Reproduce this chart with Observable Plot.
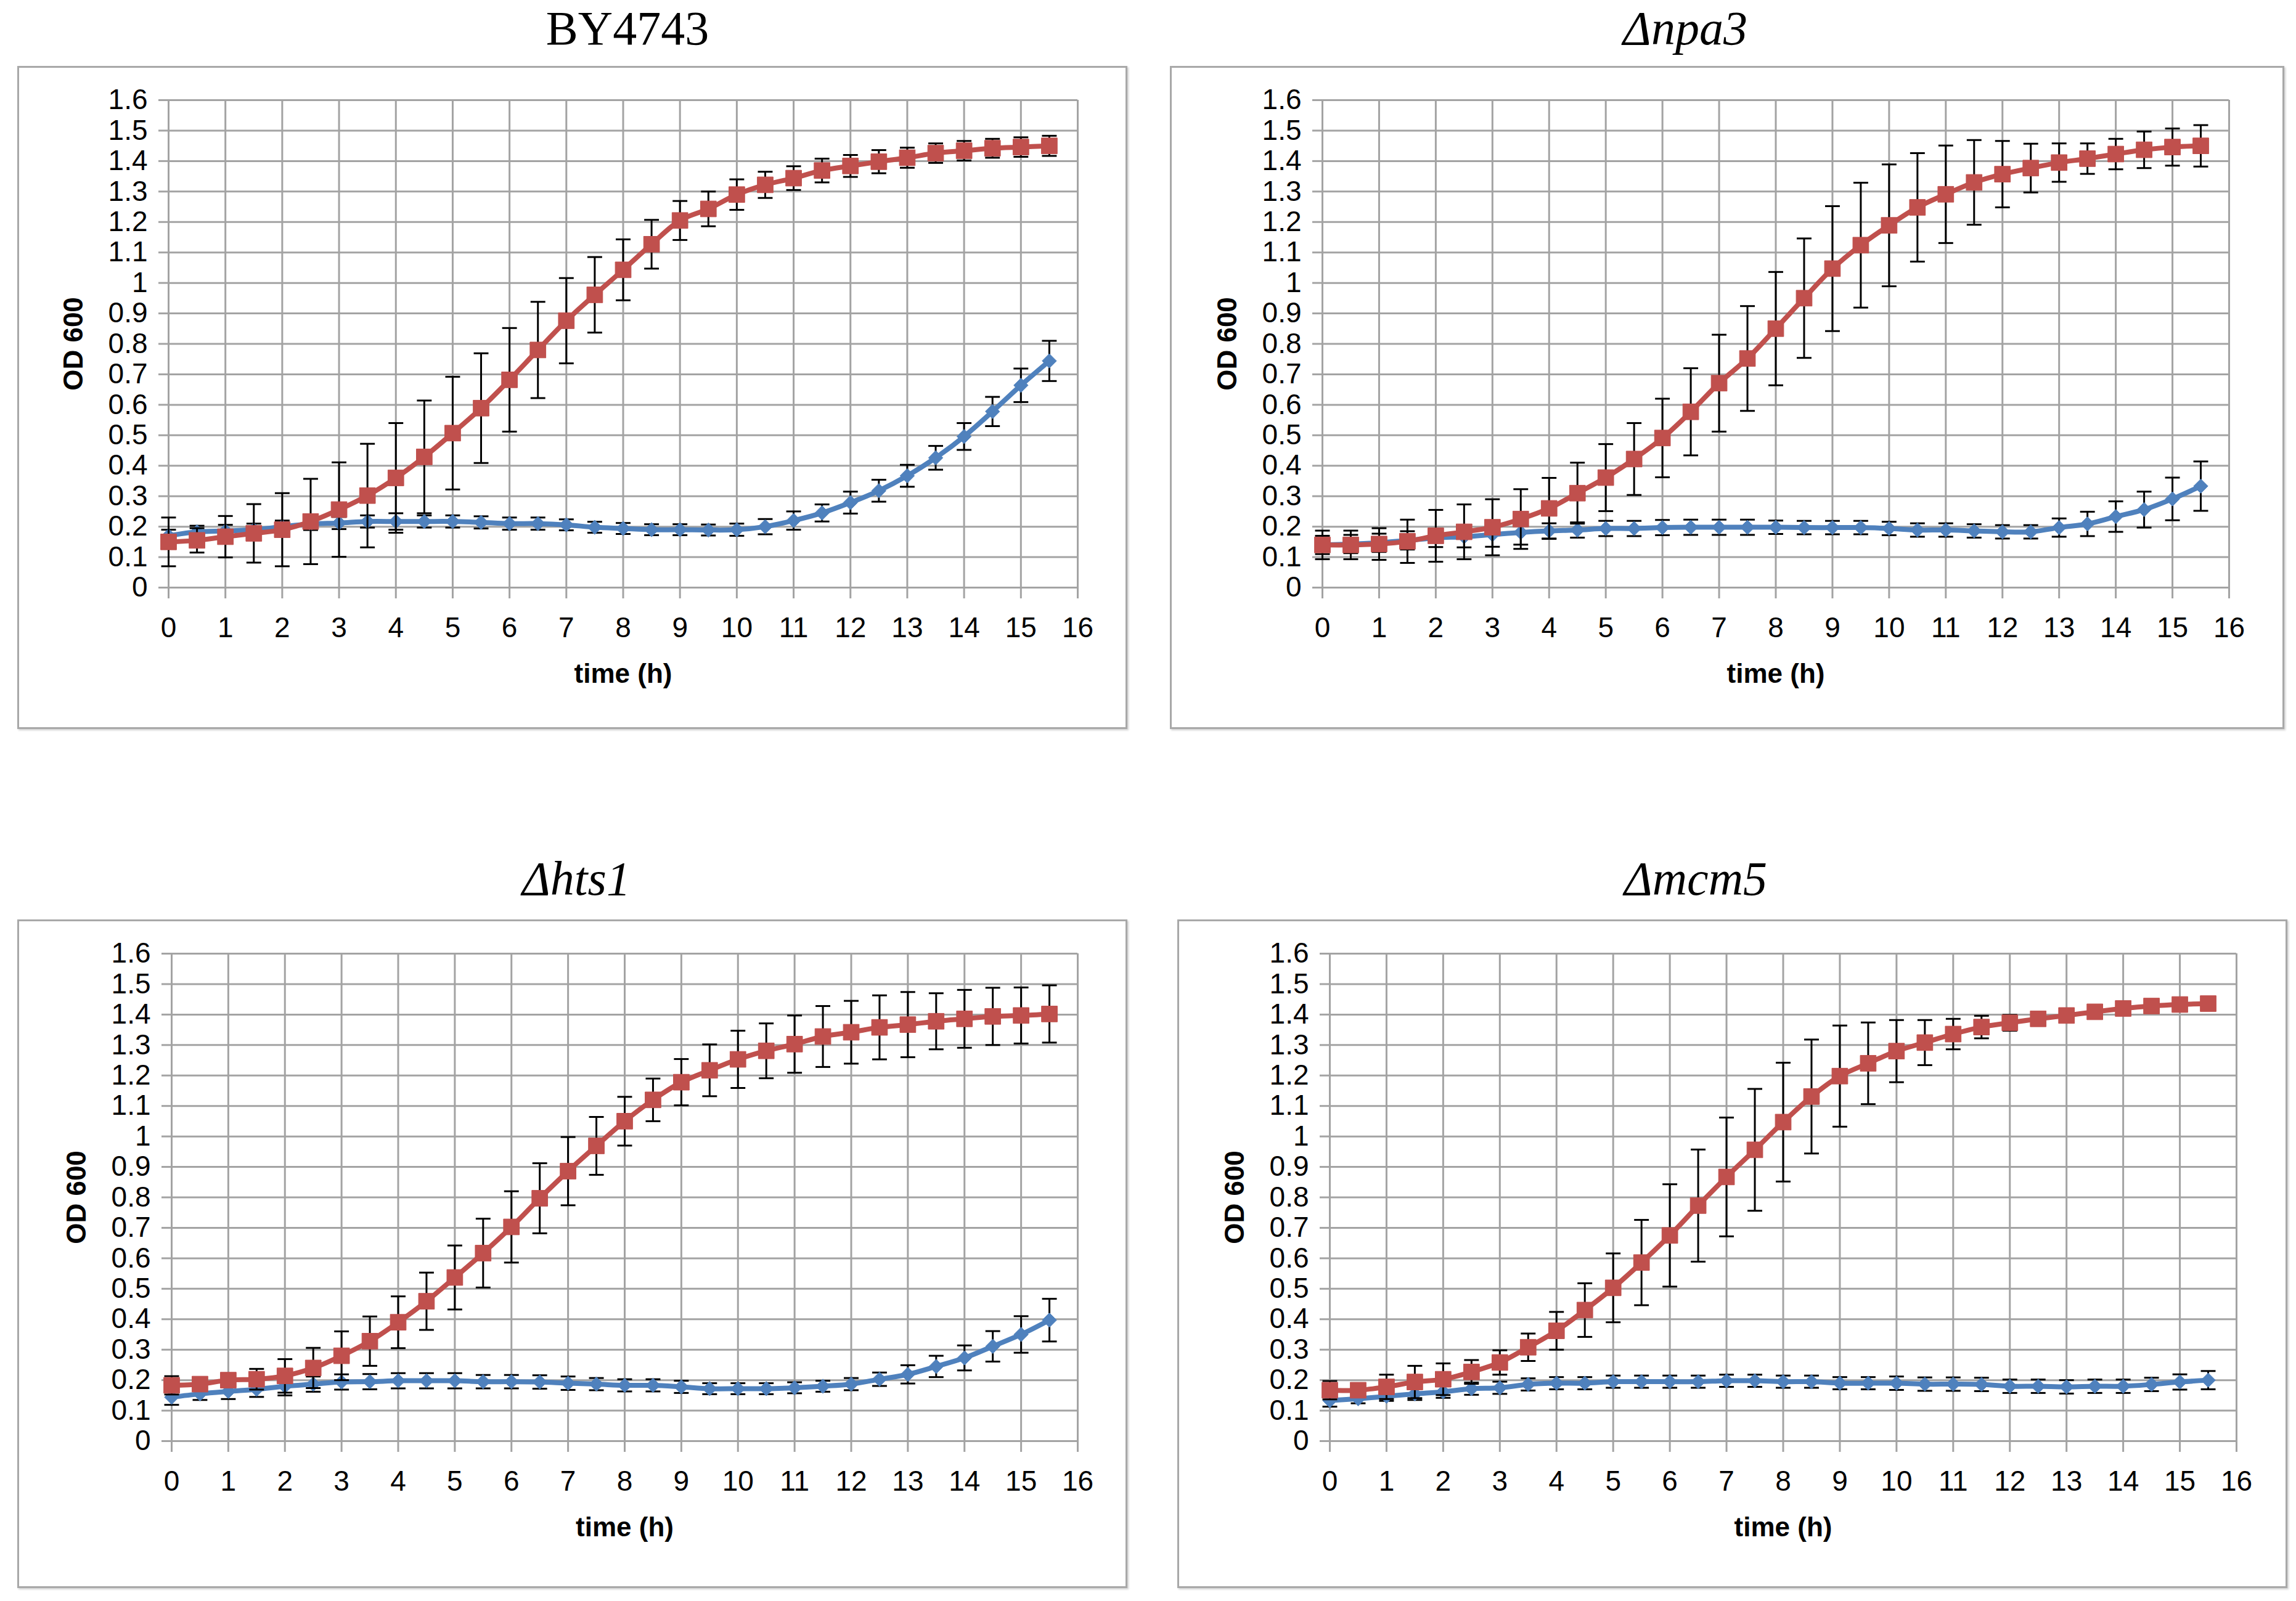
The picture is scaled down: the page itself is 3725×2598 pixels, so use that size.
<!DOCTYPE html>
<html>
<head>
<meta charset="utf-8">
<script src="https://cdn.jsdelivr.net/npm/d3@7"></script>
<script src="https://cdn.jsdelivr.net/npm/@observablehq/plot@0.6"></script>
<style>
  html, body { margin: 0; padding: 0; background: #fff; }
  #page { position: relative; width: 3725px; height: 2598px; background: #fff; overflow: hidden; }
  .title { position: absolute; font-family: "Liberation Serif", "Times New Roman", serif; font-size: 78px; color: #000; white-space: nowrap; line-height: 1; transform: translate(-50%, 0); }
  .title.it { font-style: italic; }
  .box { position: absolute; border: 3px solid #a8a8a8; box-shadow: 2px 2px 3px #cfcfcf; background: #fff; }
  .box svg { display: block; }
</style>
</head>
<body>
<div id="page"></div>
<script>
// ---- data ----
const time = [0,0.5,1,1.5,2,2.5,3,3.5,4,4.5,5,5.5,6,6.5,7,7.5,8,8.5,9,9.5,10,10.5,11,11.5,12,12.5,13,13.5,14,14.5,15,15.5];
const xTicks = [0,1,2,3,4,5,6,7,8,9,10,11,12,13,14,15,16];
const yTicks = [0,0.1,0.2,0.3,0.4,0.5,0.6,0.7,0.8,0.9,1,1.1,1.2,1.3,1.4,1.5,1.6];
const titles = ["BY4743", "\u0394npa3", "\u0394hts1", "\u0394mcm5"];

// BY4743
const byRed     = [0.15,0.155,0.167,0.178,0.19,0.217,0.256,0.302,0.36,0.429,0.507,0.589,0.682,0.78,0.876,0.961,1.043,1.127,1.205,1.243,1.29,1.322,1.344,1.369,1.384,1.398,1.411,1.426,1.434,1.442,1.446,1.45];
const byRedErr  = [0.08,0.04,0.068,0.096,0.12,0.14,0.155,0.17,0.18,0.185,0.185,0.18,0.17,0.158,0.14,0.124,0.1,0.08,0.064,0.057,0.05,0.043,0.039,0.039,0.036,0.038,0.033,0.032,0.032,0.031,0.032,0.033];
const byBlue    = [0.17,0.183,0.186,0.19,0.2,0.209,0.212,0.217,0.217,0.217,0.217,0.214,0.21,0.21,0.206,0.198,0.194,0.19,0.19,0.189,0.19,0.2,0.22,0.245,0.279,0.318,0.367,0.426,0.496,0.578,0.664,0.744];
const byBlueErr = [0.02,0.02,0.02,0.02,0.02,0.02,0.02,0.02,0.027,0.02,0.02,0.02,0.02,0.02,0.018,0.018,0.018,0.018,0.018,0.018,0.02,0.025,0.03,0.028,0.036,0.036,0.036,0.039,0.044,0.048,0.055,0.066];

// Δnpa3
const npRed     = [0.14,0.14,0.143,0.152,0.17,0.183,0.198,0.225,0.26,0.31,0.361,0.422,0.491,0.577,0.671,0.752,0.85,0.95,1.047,1.124,1.189,1.248,1.291,1.33,1.357,1.377,1.395,1.408,1.423,1.437,1.446,1.45];
const npRedErr  = [0.047,0.047,0.052,0.071,0.085,0.09,0.092,0.098,0.1,0.1,0.11,0.118,0.129,0.143,0.159,0.172,0.186,0.196,0.205,0.205,0.2,0.178,0.16,0.139,0.109,0.08,0.063,0.05,0.05,0.06,0.061,0.068];
const npBlue    = [0.14,0.143,0.147,0.155,0.163,0.167,0.174,0.181,0.186,0.189,0.194,0.194,0.197,0.198,0.198,0.198,0.198,0.197,0.197,0.197,0.194,0.189,0.189,0.186,0.183,0.183,0.197,0.209,0.233,0.256,0.291,0.333];
const npBlueErr = [0.03,0.03,0.03,0.03,0.03,0.035,0.04,0.04,0.025,0.025,0.025,0.025,0.025,0.025,0.025,0.025,0.022,0.022,0.022,0.022,0.022,0.022,0.022,0.022,0.022,0.022,0.03,0.04,0.05,0.059,0.07,0.081];

// Δhts1
const htRed     = [0.183,0.187,0.2,0.203,0.214,0.24,0.28,0.328,0.39,0.459,0.537,0.617,0.703,0.797,0.886,0.969,1.05,1.12,1.178,1.217,1.253,1.281,1.303,1.328,1.342,1.358,1.367,1.378,1.386,1.394,1.397,1.402];
const htRedErr  = [0.03,0.02,0.02,0.034,0.055,0.066,0.08,0.081,0.085,0.094,0.105,0.113,0.117,0.115,0.112,0.095,0.08,0.07,0.076,0.085,0.094,0.09,0.094,0.1,0.103,0.105,0.107,0.092,0.095,0.094,0.092,0.094];
const htBlue    = [0.144,0.155,0.163,0.17,0.18,0.187,0.194,0.195,0.198,0.198,0.198,0.195,0.195,0.194,0.19,0.187,0.183,0.183,0.178,0.172,0.172,0.172,0.175,0.18,0.187,0.203,0.219,0.245,0.273,0.311,0.35,0.397];
const htBlueErr = [0.025,0.02,0.025,0.025,0.03,0.025,0.025,0.025,0.025,0.025,0.025,0.022,0.022,0.022,0.022,0.02,0.02,0.02,0.02,0.018,0.018,0.018,0.018,0.018,0.02,0.022,0.03,0.035,0.041,0.05,0.06,0.07];

// Δmcm5
const mcRed     = [0.167,0.167,0.178,0.194,0.203,0.227,0.258,0.308,0.362,0.43,0.503,0.586,0.675,0.773,0.867,0.956,1.047,1.131,1.198,1.24,1.28,1.308,1.336,1.359,1.373,1.386,1.397,1.409,1.42,1.428,1.433,1.436];
const mcRedErr  = [0.03,0.01,0.04,0.053,0.052,0.039,0.04,0.045,0.062,0.088,0.113,0.14,0.168,0.184,0.195,0.2,0.195,0.187,0.166,0.134,0.102,0.074,0.05,0.037,0.026,0.01,0.01,0.01,0.01,0.01,0.01,0.01];
const mcBlue    = [0.133,0.139,0.147,0.155,0.162,0.172,0.175,0.186,0.19,0.19,0.195,0.195,0.195,0.195,0.198,0.198,0.195,0.195,0.19,0.19,0.19,0.187,0.187,0.186,0.18,0.18,0.178,0.18,0.18,0.186,0.194,0.2];
const mcBlueErr = [0.02,0.015,0.015,0.02,0.02,0.02,0.02,0.02,0.02,0.02,0.02,0.02,0.02,0.02,0.02,0.02,0.02,0.02,0.02,0.02,0.022,0.022,0.022,0.022,0.022,0.022,0.022,0.022,0.022,0.022,0.025,0.03];

const RED = "#C0504D", BLUE = "#4F81BD", GRID = "#a3a3a3";

// layout of the four boxes (page pixels)
const panels = [
  {title: titles[0], italic: false, tx: 1018, ty: 7,    left: 28,   top: 107,  width: 1801, height: 1076, ml: 245, mr: 81, mt: 55, mb: 230, red: byRed, redErr: byRedErr, blue: byBlue, blueErr: byBlueErr},
  {title: titles[1], italic: true,  tx: 2734, ty: 7,    left: 1898, top: 107,  width: 1808, height: 1076, ml: 247, mr: 90, mt: 55, mb: 230, red: npRed, redErr: npRedErr, blue: npBlue, blueErr: npBlueErr},
  {title: titles[2], italic: true,  tx: 935,  ty: 1387, left: 28,   top: 1492, width: 1801, height: 1085, ml: 250, mr: 81, mt: 55, mb: 239, red: htRed, redErr: htRedErr, blue: htBlue, blueErr: htBlueErr},
  {title: titles[3], italic: true,  tx: 2751, ty: 1387, left: 1910, top: 1492, width: 1801, height: 1085, ml: 247, mr: 83, mt: 55, mb: 239, red: mcRed, redErr: mcRedErr, blue: mcBlue, blueErr: mcBlueErr}
];

const capSymbol = { draw(ctx, size) { const w = Math.sqrt(size) / 2; ctx.moveTo(-w, 0); ctx.lineTo(w, 0); } };

function seriesMarks(rows, color, symbol, r) {
  return [
    Plot.ruleX(rows, {x: "t", y1: d => d.v - d.e, y2: d => d.v + d.e, stroke: "#000", strokeWidth: 3}),
    Plot.dot(rows, {x: "t", y: d => d.v + d.e, symbol: capSymbol, r: 13.5, stroke: "#000", strokeWidth: 3, fill: "none"}),
    Plot.dot(rows, {x: "t", y: d => d.v - d.e, symbol: capSymbol, r: 13.5, stroke: "#000", strokeWidth: 3, fill: "none"}),
    Plot.line(rows, {x: "t", y: "v", stroke: color, strokeWidth: 8, curve: "catmull-rom"}),
    Plot.dot(rows, {x: "t", y: "v", symbol, r, fill: color, stroke: color, strokeWidth: 1})
  ];
}

const page = document.getElementById("page");
for (const p of panels) {
  const t = document.createElement("div");
  t.className = "title" + (p.italic ? " it" : "");
  t.textContent = p.title;
  t.style.left = p.tx + "px";
  t.style.top = p.ty + "px";
  page.appendChild(t);

  const redRows = time.map((x, i) => ({t: x, v: p.red[i], e: p.redErr[i]}));
  const blueRows = time.map((x, i) => ({t: x, v: p.blue[i], e: p.blueErr[i]}));

  const chart = Plot.plot({
    width: p.width - 6,
    height: p.height - 6,
    marginLeft: p.ml - 3,
    marginRight: p.mr - 3,
    marginTop: p.mt - 3,
    marginBottom: p.mb - 3,
    style: {fontFamily: "'Liberation Sans', Arial, sans-serif", fontSize: "46px", background: "#fff", color: "#000", overflow: "visible"},
    x: {domain: [0, 16], label: null},
    y: {domain: [0, 1.6], label: null},
    marks: [
      Plot.gridX(xTicks, {stroke: GRID, strokeOpacity: 1, strokeWidth: 3}),
      Plot.gridY(yTicks, {stroke: GRID, strokeOpacity: 1, strokeWidth: 3}),
      Plot.axisX(xTicks, {tickSize: 18, tickPadding: 30, stroke: GRID, strokeWidth: 3, fill: "#000", fontSize: 46, label: null, tickFormat: d => String(d)}),
      Plot.axisY(yTicks, {tickSize: 16, tickPadding: 18, stroke: GRID, strokeWidth: 3, fill: "#000", fontSize: 46, label: null, tickFormat: d => String(+d.toFixed(1))}),
      Plot.text(["OD 600"], {frameAnchor: "left", textAnchor: "middle", lineAnchor: "middle", dx: -154, rotate: -90, fontWeight: "bold", fontSize: 44, fill: "#000"}),
      Plot.text(["time (h)"], {frameAnchor: "bottom", textAnchor: "middle", lineAnchor: "middle", dy: 140, fontWeight: "bold", fontSize: 44, fill: "#000"}),
      ...seriesMarks(blueRows, BLUE, "diamond2", 10.5),
      ...seriesMarks(redRows, RED, "square", 14.5)
    ]
  });

  const box = document.createElement("div");
  box.className = "box";
  box.style.left = p.left + "px";
  box.style.top = p.top + "px";
  box.style.width = (p.width - 6) + "px";
  box.style.height = (p.height - 6) + "px";
  box.appendChild(chart);
  page.appendChild(box);
}
</script>
</body>
</html>
